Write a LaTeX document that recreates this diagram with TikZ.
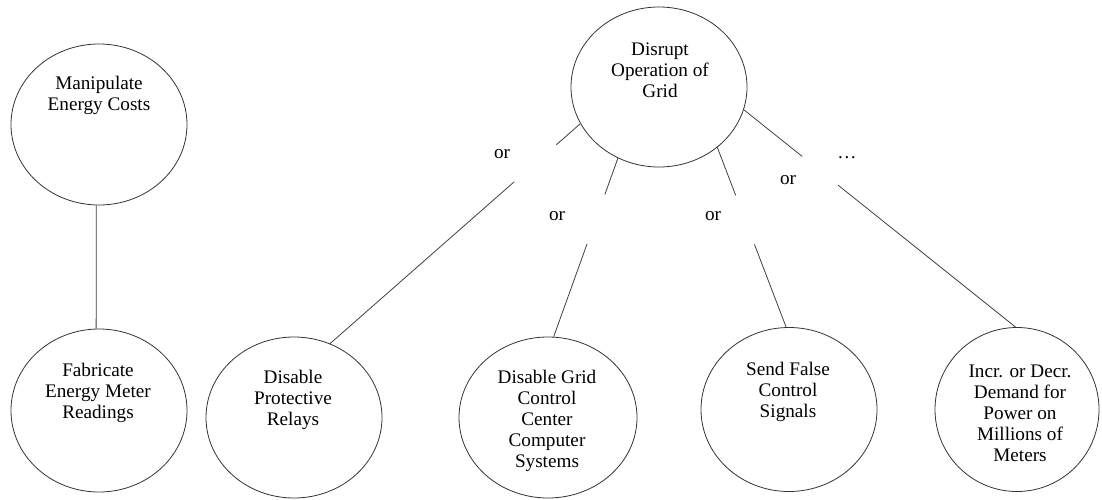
\documentclass[tikz,border=0pt]{standalone}
\usepackage{fontspec}
\setmainfont{Liberation Serif}
\usetikzlibrary{shapes.geometric,calc}
\begin{document}
\begin{tikzpicture}[x=1pt,y=-1pt,
  goal/.style={ellipse,draw=black!80,line width=0.8pt,inner sep=0pt},
  goaltext/.style={align=center,inner sep=0pt,font=\fontsize{19.2}{21}\selectfont},
  ortext/.style={inner sep=0pt,font=\fontsize{19.2}{21}\selectfont},
  link/.style={draw=black!75,line width=0.8pt}]

\useasboundingbox (0,0) rectangle (1102,500);

% goal ellipses
\node[goal,minimum width=176pt,minimum height=161pt] (costs)   at (99,124.5)  {};
\node[goal,minimum width=176pt,minimum height=163pt] (meter)   at (99,410.5)  {};
\node[goal,minimum width=176pt,minimum height=160pt] (disrupt) at (659,87)    {};
\node[goal,minimum width=176pt,minimum height=161pt] (relays)  at (294,417.5) {};
\node[goal,minimum width=178pt,minimum height=161pt] (gridcc)  at (548,417.5) {};
\node[goal,minimum width=176pt,minimum height=164pt] (signals) at (789,409.5) {};
\node[goal,minimum width=164pt,minimum height=164pt] (demand)  at (1017,409.5) {};

% goal texts, set in the upper part of each ellipse
\node[goaltext] (costs-t)   at (99,95.5)   {Manipulate\\Energy Costs};
\node[goaltext] (meter-t)   at (98,392.5)  {Fabricate\\Energy Meter\\Readings};
\node[goaltext] (disrupt-t) at (660,70)    {Disrupt\\Operation of\\Grid};
\node[goaltext] (relays-t)  at (293,399.5) {Disable\\Protective\\Relays};
\node[goaltext] (gridcc-t)  at (547,421)   {Disable Grid\\Control\\Center\\Computer\\Systems};
\node[goaltext] (signals-t) at (788,391.5) {Send False\\Control\\Signals};
\node[goaltext] (demand-t)  at (1020,413)  {Incr. or Decr.\\Demand for\\Power on\\Millions of\\Meters};

% single refinement
\draw[link] (costs.268) -- (meter.92);

% alternative refinements, each broken where its "or" sits
\coordinate (a1) at (disrupt.205);
\coordinate (b1) at (relays.64);
\draw[link] (a1) -- ($(a1)!0.096!(b1)$);
\draw[link] ($(a1)!0.265!(b1)$) -- (b1);

\coordinate (a2) at (disrupt.240);
\coordinate (b2) at (gridcc.86);
\draw[link] (a2) -- ($(a2)!0.203!(b2)$);
\draw[link] ($(a2)!0.48!(b2)$) -- (b2);

\coordinate (a3) at (disrupt.314);
\coordinate (b3) at (signals.92);
\draw[link] (a3) -- ($(a3)!0.267!(b3)$);
\draw[link] ($(a3)!0.539!(b3)$) -- (b3);

\coordinate (a4) at (disrupt.345);
\coordinate (b4) at (demand.91);
\draw[link] (a4) -- ($(a4)!0.215!(b4)$);
\draw[link] ($(a4)!0.347!(b4)$) -- (b4);

% connector labels
\node[ortext] (or1) at (502,154) {or};
\node[ortext] (or2) at (557,216) {or};
\node[ortext] (or3) at (713,216) {or};
\node[ortext] (or4) at (788,180) {or};
\node[ortext] (more) at (847,158) {…};
\end{tikzpicture}
\end{document}
